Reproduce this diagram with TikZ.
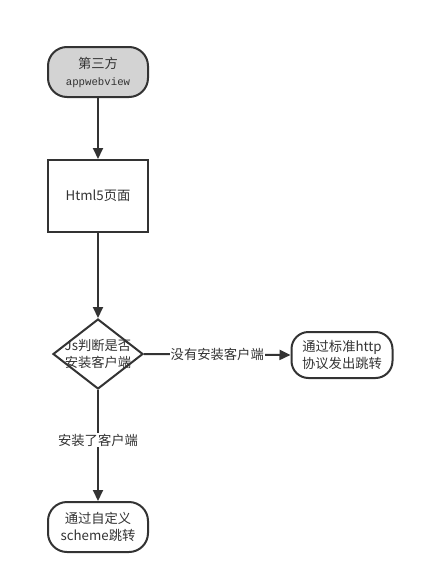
\documentclass[tikz,border=0pt]{standalone}
\usepackage{fontspec}
\setmainfont{Noto Sans CJK SC}
\newfontfamily\monof{Liberation Mono}
\usetikzlibrary{shapes.geometric,arrows.meta}
\definecolor{ln}{HTML}{333333}
\definecolor{gr}{HTML}{D3D3D3}
\tikzset{
  every node/.style={font=\fontsize{13.3}{17}\selectfont, text=ln, align=center},
  term/.style={draw=ln, line width=2pt, rounded corners=19pt, minimum width=100pt, minimum height=50pt, inner sep=0pt},
  proc/.style={draw=ln, line width=2pt, minimum width=100pt, minimum height=72pt, inner sep=0pt},
  dec/.style={draw=ln, line width=2pt, diamond, minimum width=90pt, minimum height=70pt, inner sep=0pt, aspect=1.3},
  conn/.style={draw=ln, line width=2pt, -{Triangle[length=11pt,width=10pt]}},
  lbl/.style={fill=white, inner sep=1pt}
}
\begin{document}
\begin{tikzpicture}[x=1pt,y=-1pt]
\useasboundingbox (0,0) rectangle (425,584);
\node[term, fill=gr] (start) at (98,72) {第三方\\{\monof\fontsize{10.7}{13}\selectfont appwebview}};
\node[proc] (html) at (98,196) {Html5页面};
\node[dec] (js) at (98,354) {};
\node at (98,354) {\strut Js判断是否\\安装客户端};
\node[term, minimum width=101pt, minimum height=46pt, rounded corners=17pt] (http) at (342,355) {通过标准http\\协议发出跳转};
\node[term] (scheme) at (98,527) {通过自定义\\scheme跳转};
\draw[conn] (start) -- (html);
\draw[conn] (html) -- (js.north);
\draw[conn] (js.east) -- node[lbl] {没有安装客户端} (http.west);
\draw[conn] (js.south) -- node[lbl, pos=0.45] {安装了客户端} (scheme.north);
\end{tikzpicture}
\end{document}
